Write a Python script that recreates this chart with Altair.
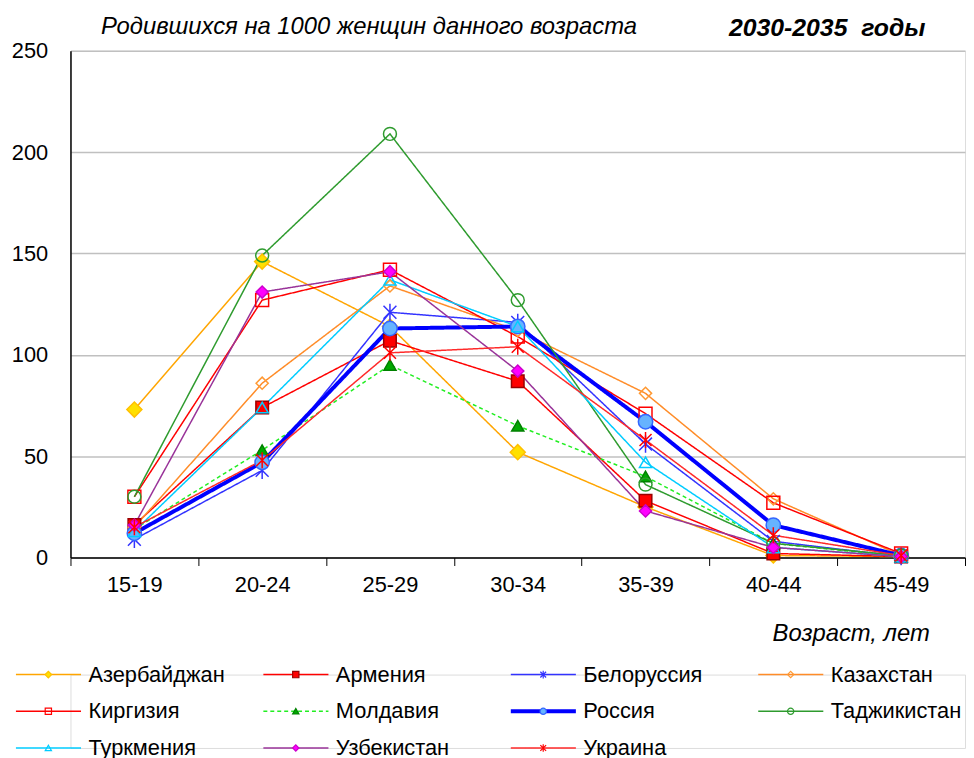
import altair as alt
import pandas as pd

# ---------------- data ----------------
ages = ["15-19", "20-24", "25-29", "30-34", "35-39", "40-44", "45-49"]
countries = ["Азербайджан", "Армения", "Белоруссия", "Казахстан",
             "Киргизия", "Молдавия", "Россия", "Таджикистан",
             "Туркмения", "Узбекистан", "Украина"]

azerbaijan = [73, 146, 114, 52, 25, 1, 0.5]
armenia = [16, 74, 107, 87, 28, 2, 0.5]
belarus = [9, 43, 121, 116, 56, 8, 0.5]
kazakhstan = [15, 86, 134, 112, 81, 29, 1]
kyrgyzstan = [30, 127, 142, 109, 71, 27, 2]
moldova = [14, 53, 95, 65, 40, 7, 0.5]
russia = [12, 47, 113, 114, 67, 16, 1]
tajikistan = [30, 149, 209, 127, 36, 7, 1]
turkmenia = [13, 74, 137, 114, 47, 5, 0.5]
uzbekistan = [16, 131, 141, 92, 23, 5, 0.5]
ukraine = [15, 48, 101, 104, 58, 11, 1]

series = [azerbaijan, armenia, belarus, kazakhstan, kyrgyzstan, moldova,
          russia, tajikistan, turkmenia, uzbekistan, ukraine]

# ---------------- styles ----------------
line_colors = ["#FFA500", "#FF0000", "#3333FF", "#FF8C28", "#FF0000", "#22EE22",
               "#0000FF", "#2E9B2E", "#00CCFF", "#993399", "#FF2A2A"]
line_widths = [1.5, 1.5, 1.5, 1.5, 1.5, 1.5, 4, 1.5, 1.5, 1.5, 1.5]
line_dashes = [[1, 0], [1, 0], [1, 0], [1, 0], [1, 0], [4, 3],
               [1, 0], [1, 0], [1, 0], [1, 0], [1, 0]]
star = "M0,-1L0,1M-0.75,-0.75L0.75,0.75M-0.75,0.75L0.75,-0.75"
marker_shapes = ["diamond", "square", star, "diamond", "square", "triangle-up",
                 "circle", "circle", "triangle-up", "diamond", star]
marker_fills = ["#FFE000", "#FF0000", "transparent", "transparent", "transparent", "#00A800",
                "#66B3FF", "transparent", "transparent", "#FF00FF", "transparent"]
marker_strokes = ["#FFC000", "#990000", "#3333FF", "#FF9933", "#FF0000", "#008000",
                  "#3366FF", "#2E9B2E", "#00CCFF", "#CC00CC", "#FF0000"]
marker_sizes = [230, 160, 300, 150, 170, 150, 210, 170, 150, 150, 260]
legend_sizes = [45, 40, 60, 40, 40, 40, 40, 40, 40, 40, 60]

FONT = "Liberation Sans"
W, H = 902, 511

rows = []
for c, vals in zip(countries, series):
    for a, v in zip(ages, vals):
        rows.append({"country": c, "age": a, "value": v})
df = pd.DataFrame(rows)

color_s = alt.Scale(domain=countries, range=line_colors)
width_s = alt.Scale(domain=countries, range=line_widths, type="ordinal")
dash_s = alt.Scale(domain=countries, range=line_dashes)
shape_s = alt.Scale(domain=countries, range=marker_shapes)
fill_s = alt.Scale(domain=countries, range=marker_fills)
stroke_s = alt.Scale(domain=countries, range=marker_strokes)
size_s = alt.Scale(domain=countries, range=marker_sizes, type="ordinal")
lsize_s = alt.Scale(domain=countries, range=legend_sizes, type="ordinal")

x_enc = alt.X(
    "age:N", sort=ages, bandPosition=0.5,
    scale=alt.Scale(type="band", paddingInner=0, paddingOuter=0),
    axis=alt.Axis(
        tickBand="extent", labelAngle=0, labelFont=FONT, labelFontSize=22,
        labelColor="#000", labelPadding=9, tickSize=8, tickColor="#000",
        domainColor="#000", domainWidth=1.5, grid=False,
        title="Возраст, лет", titleFont=FONT, titleFontSize=24,
        titleFontStyle="italic", titleFontWeight="normal", titleColor="#000",
        titleX=866, titleY=77, titleAlign="right", titleBaseline="middle",
        titleAnchor="end",
    ),
)
y_enc = alt.Y(
    "value:Q",
    scale=alt.Scale(domain=[0, 250], nice=False),
    axis=alt.Axis(
        values=[0, 50, 100, 150, 200, 250], grid=True, gridColor="#C0C0C0",
        gridWidth=1.5, ticks=False, labelFont=FONT, labelFontSize=22,
        labelColor="#000", labelPadding=23, domainColor="#000",
        domainWidth=1.5, title=None,
    ),
)

base = alt.Chart(df)
lines = base.mark_line().encode(
    x=x_enc, y=y_enc,
    color=alt.Color("country:N", scale=color_s, legend=None),
    strokeWidth=alt.StrokeWidth("country:N", scale=width_s, legend=None),
    strokeDash=alt.StrokeDash("country:N", scale=dash_s, legend=None),
    detail="country:N",
)
points = base.mark_point(filled=True, opacity=1, strokeWidth=1.5).encode(
    x=x_enc, y=y_enc,
    shape=alt.Shape("country:N", scale=shape_s, legend=None),
    fill=alt.Fill("country:N", scale=fill_s, legend=None),
    stroke=alt.Stroke("country:N", scale=stroke_s, legend=None),
    size=alt.Size("country:N", scale=size_s, legend=None),
)

title_df = pd.DataFrame({"t": ["Родившихся на 1000 женщин данного возраста"]})
title1 = alt.Chart(title_df).mark_text(
    font=FONT, fontSize=24, fontStyle="italic", color="#000", baseline="middle"
).encode(text="t:N", x=alt.value(301), y=alt.value(-24))
period_df = pd.DataFrame({"t": ["2030-2035\u00a0 годы"]})
title2 = alt.Chart(period_df).mark_text(
    font=FONT, fontSize=25, fontStyle="italic", fontWeight="bold", color="#000",
    baseline="middle"
).encode(text="t:N", x=alt.value(763), y=alt.value(-23))

main = alt.layer(lines, points, title1, title2).properties(width=W, height=H)

# ---------------- legend ----------------
leg = pd.DataFrame({
    "country": countries,
    "col": [i % 4 for i in range(len(countries))],
    "row": [i // 4 for i in range(len(countries))],
})
unit = 249.5          # px per legend column
lead = 55.0           # legend starts this far left of the plot area
# column c maps to pixel c*unit - lead (relative to the plot's left edge)
lx = alt.Scale(domain=[lead / unit, (W + lead) / unit], nice=False, zero=False)
ly = alt.Scale(domain=[0, 2], reverse=True, nice=False, zero=False)
lbase = alt.Chart(leg).transform_calculate(
    x0="datum.col", x1="datum.col + 0.263", xm="datum.col + 0.131",
    xt="datum.col + 0.293",
)
lrule = lbase.mark_rule().encode(
    x=alt.X("x0:Q", scale=lx, axis=None), x2="x1:Q",
    y=alt.Y("row:Q", scale=ly, axis=None),
    color=alt.Color("country:N", scale=color_s, legend=None),
    strokeWidth=alt.StrokeWidth("country:N", scale=width_s, legend=None),
    strokeDash=alt.StrokeDash("country:N", scale=dash_s, legend=None),
)
lpts = lbase.mark_point(filled=True, opacity=1, strokeWidth=1.2).encode(
    x=alt.X("xm:Q", scale=lx, axis=None),
    y=alt.Y("row:Q", scale=ly, axis=None),
    shape=alt.Shape("country:N", scale=shape_s, legend=None),
    fill=alt.Fill("country:N", scale=fill_s, legend=None),
    stroke=alt.Stroke("country:N", scale=stroke_s, legend=None),
    size=alt.Size("country:N", scale=lsize_s, legend=None),
)
ltext = lbase.mark_text(align="left", baseline="middle", font=FONT,
                        fontSize=22, color="#000").encode(
    x=alt.X("xt:Q", scale=lx, axis=None),
    y=alt.Y("row:Q", scale=ly, axis=None),
    text="country:N",
)
legend = alt.layer(lrule, lpts, ltext).properties(width=W, height=74).resolve_scale(
    size="independent"
)

chart = alt.vconcat(main, legend, spacing=16).resolve_scale(
    x="independent", y="independent", size="independent"
).properties(
    padding={"left": 2, "top": 3, "right": 0, "bottom": 0}
).configure_view(
    stroke="#808080", strokeWidth=1.5
).configure(background="white")

chart.save("out.html", embed_options={"renderer": "svg", "actions": False})
